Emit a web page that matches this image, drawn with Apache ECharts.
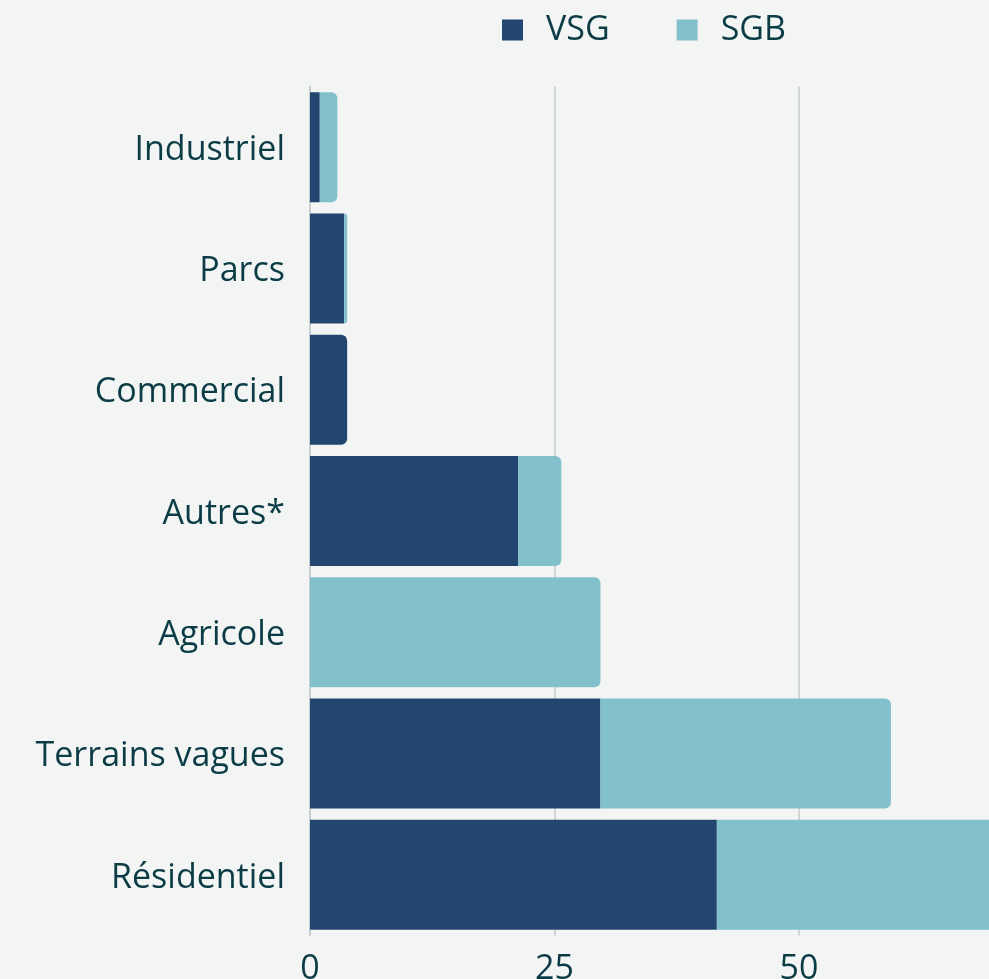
<!DOCTYPE html>
<html>
<head>
<meta charset="utf-8">
<script src="https://cdn.jsdelivr.net/npm/echarts@6/dist/echarts.min.js"></script>
<style>
  html, body { margin: 0; padding: 0; background: #f3f5f4; }
  #chart { width: 989px; height: 979px; }
</style>
</head>
<body>
<div id="chart"></div>
<script>
const categories = ['Industriel', 'Parcs', 'Commercial', 'Autres*', 'Agricole', 'Terrains vagues', 'Résidentiel']
const vsg = [1.0, 3.5, 3.8, 21.3, 0, 29.7, 41.6]
const sgb = [1.8, 0.3, 0, 4.4, 29.7, 29.7, 32]
const xTicks = [0, 25, 50, 75]

const textColor = '#0b3c46'
const font = '"Open Sans", sans-serif'

const chart = echarts.init(document.getElementById('chart'))

// round the right end of whichever segment closes the stack
const vsgData = vsg.map((v, i) => ({
  value: v,
  itemStyle: { borderRadius: sgb[i] > 0 ? 0 : [0, 6, 6, 0] },
}))

chart.setOption({
  backgroundColor: '#f3f5f4',
  animation: false,
  textStyle: { fontFamily: font },
  legend: {
    data: ['VSG', 'SGB'],
    left: 497,
    top: 8,
    itemWidth: 21,
    itemHeight: 21,
    itemGap: 67,
    icon: 'rect',
    textStyle: { color: textColor, fontSize: 34, fontFamily: font, padding: [0, 0, 0, 18] },
  },
  grid: {
    left: 310, top: 86.5, bottom: 43.5, width: 733.5,
    containLabel: false, outerBoundsMode: 'none',
  },
  xAxis: {
    type: 'value',
    min: xTicks[0],
    max: xTicks[xTicks.length - 1],
    interval: 25,
    axisLine: { show: false },
    axisTick: { show: false },
    axisLabel: { color: textColor, fontSize: 34, fontFamily: font, margin: 17 },
    splitLine: { lineStyle: { color: '#c6cbcb', width: 1.5 } },
  },
  yAxis: {
    type: 'category',
    inverse: true,
    data: categories,
    axisLine: { lineStyle: { color: '#c6cbcb', width: 1.5 } },
    axisTick: { show: false },
    axisLabel: {
      margin: 25,
      formatter: (v) => '{c|' + v + '}',
      rich: { c: { color: textColor, fontSize: 34, fontFamily: font, padding: [6, 0, 0, 0] } },
    },
  },
  series: [
    {
      name: 'VSG',
      type: 'bar',
      stack: 'total',
      barWidth: 110,
      data: vsgData,
      itemStyle: { color: '#22466f' },
    },
    {
      name: 'SGB',
      type: 'bar',
      stack: 'total',
      barWidth: 110,
      data: sgb,
      itemStyle: { color: '#82c1cb', borderRadius: [0, 6, 6, 0] },
    },
  ],
})
</script>
</body>
</html>
